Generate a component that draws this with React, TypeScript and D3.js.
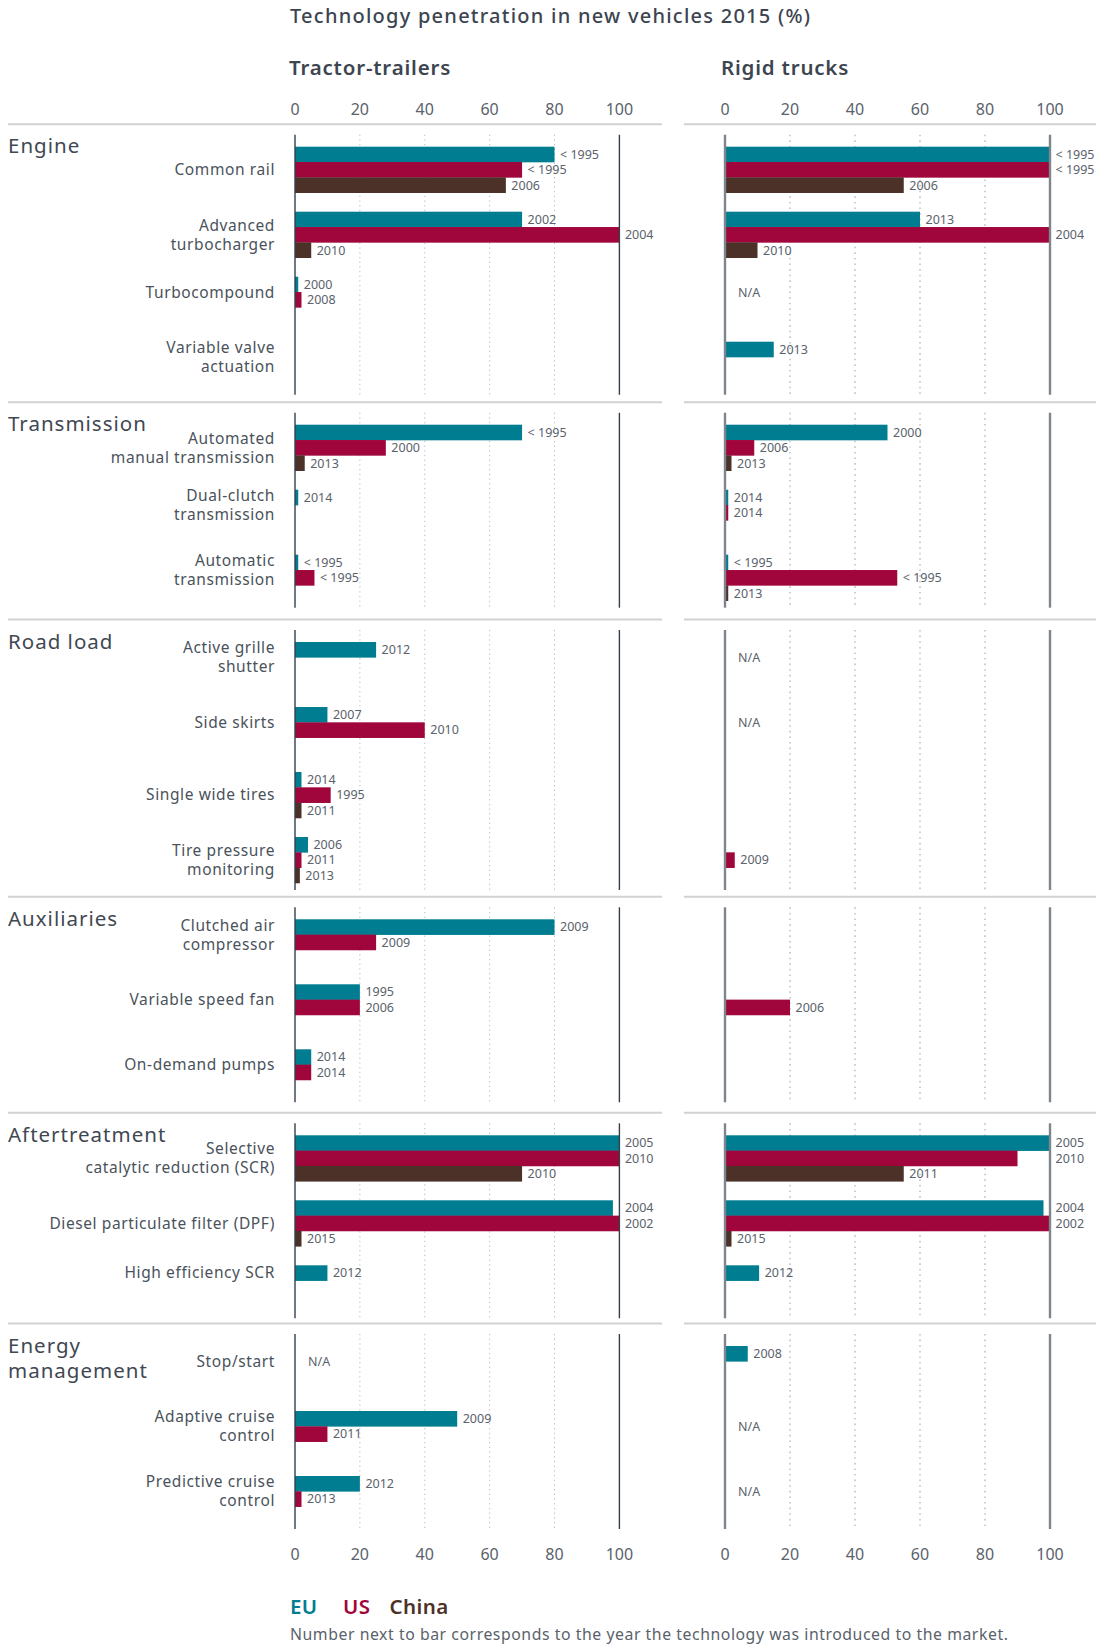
import React from "react";
import * as d3 from "d3";

// ---------- DATA ----------
const sectionNames = ["Engine", "Transmission", "Road load", "Auxiliaries", "Aftertreatment", "Energy\nmanagement"];
const techSection = [0, 0, 0, 0, 1, 1, 1, 2, 2, 2, 2, 3, 3, 3, 4, 4, 4, 5, 5, 5];
const techLabels = [
  "Common rail",
  "Advanced\nturbocharger",
  "Turbocompound",
  "Variable valve\nactuation",
  "Automated\nmanual transmission",
  "Dual-clutch\ntransmission",
  "Automatic\ntransmission",
  "Active grille\nshutter",
  "Side skirts",
  "Single wide tires",
  "Tire pressure\nmonitoring",
  "Clutched air\ncompressor",
  "Variable speed fan",
  "On-demand pumps",
  "Selective\ncatalytic reduction (SCR)",
  "Diesel particulate filter (DPF)",
  "High efficiency SCR",
  "Stop/start",
  "Adaptive cruise\ncontrol",
  "Predictive cruise\ncontrol",
];
const regions = ["EU", "US", "China"];
const regionColors = ["#007d91", "#a0063b", "#4b3128"];
const axisTicks = [0, 20, 40, 60, 80, 100];
const panelTitles = ["Tractor-trailers", "Rigid trucks"];

type V = number | null;
type Y = string | null;
const tractorEU: V[] = [80, 70, 1, null, 70, 1, 1, 25, 10, 2, 4, 80, 20, 5, 100, 98, 10, null, 50, 20];
const tractorEUYear: Y[] = ["< 1995", "2002", "2000", null, "< 1995", "2014", "< 1995", "2012", "2007", "2014", "2006", "2009", "1995", "2014", "2005", "2004", "2012", null, "2009", "2012"];
const tractorUS: V[] = [70, 100, 2, null, 28, null, 6, null, 40, 11, 2, 25, 20, 5, 100, 100, null, null, 10, 2];
const tractorUSYear: Y[] = ["< 1995", "2004", "2008", null, "2000", null, "< 1995", null, "2010", "1995", "2011", "2009", "2006", "2014", "2010", "2002", null, null, "2011", "2013"];
const tractorCN: V[] = [65, 5, null, null, 3, null, null, null, null, 2, 1.5, null, null, null, 70, 2, null, null, null, null];
const tractorCNYear: Y[] = ["2006", "2010", null, null, "2013", null, null, null, null, "2011", "2013", null, null, null, "2010", "2015", null, null, null, null];
const tractorNA = [17];

const rigidEU: V[] = [100, 60, null, 15, 50, 1, 1, null, null, null, null, null, null, null, 100, 98, 10.5, 7, null, null];
const rigidEUYear: Y[] = ["< 1995", "2013", null, "2013", "2000", "2014", "< 1995", null, null, null, null, null, null, null, "2005", "2004", "2012", "2008", null, null];
const rigidUS: V[] = [100, 100, null, null, 9, 1, 53, null, null, null, 3, null, 20, null, 90, 100, null, null, null, null];
const rigidUSYear: Y[] = ["< 1995", "2004", null, null, "2006", "2014", "< 1995", null, null, null, "2009", null, "2006", null, "2010", "2002", null, null, null, null];
const rigidCN: V[] = [55, 10, null, null, 2, null, 1, null, null, null, null, null, null, null, 55, 2, null, null, null, null];
const rigidCNYear: Y[] = ["2006", "2010", null, null, "2013", null, "2013", null, null, null, null, null, null, null, "2011", "2015", null, null, null, null];
const rigidNA = [2, 7, 8, 18, 19];

// ---------- LAYOUT ----------
const W = 1096;
const H = 1646;
const FONT = "'Noto Sans', 'Open Sans', sans-serif";
const TEXT = "#4a525b";
const LABEL = "#5a626b";
const slotH = 15.33;
const pitch = 65;
const padTop = 12;
const sectionGaps = [0, 18, 22.3, 17.3, 21, 15.7];
const firstAxisTop = 134.7;
const labelRight = 275;

const panels = [
  {
    x: d3.scaleLinear().domain([0, 100]).range([295, 619.4]),
    values: [tractorEU, tractorUS, tractorCN],
    years: [tractorEUYear, tractorUSYear, tractorCNYear],
    na: tractorNA,
    titleX: 289,
    axisColor: "#33404c",
    axisWidth: 1.4,
    gridColor: "#b8b8b8",
    gridWidth: 1,
    gridDash: "1.2 3.5",
    sepX: [8, 662],
  },
  {
    x: d3.scaleLinear().domain([0, 100]).range([725, 1050]),
    values: [rigidEU, rigidUS, rigidCN],
    years: [rigidEUYear, rigidUSYear, rigidCNYear],
    na: rigidNA,
    titleX: 721,
    axisColor: "#7e868d",
    axisWidth: 2.4,
    gridColor: "#c4c4c4",
    gridWidth: 1.6,
    gridDash: "1.6 4",
    sepX: [684, 1096],
  },
];

// section vertical extents
const sectionCounts = sectionNames.map((_, s) => techSection.filter((t) => t === s).length);
const sectionTops: number[] = [];
sectionCounts.forEach((n, s) => {
  if (s === 0) sectionTops.push(firstAxisTop);
  else sectionTops.push(sectionTops[s - 1] + sectionCounts[s - 1] * pitch + sectionGaps[s]);
});
const sectionBottoms = sectionTops.map((t, s) => t + sectionCounts[s] * pitch);

const techBarTop = techSection.map((s, i) => {
  const idx = techSection.slice(0, i).filter((t) => t === s).length;
  return sectionTops[s] + padTop + idx * pitch;
});

export default function App() {
  const lastBottom = sectionBottoms[sectionBottoms.length - 1];
  return (
    <svg
      width={W}
      height={H}
      viewBox={`0 0 ${W} ${H}`}
      style={{ position: "absolute", left: 0, top: 0, background: "#fff" }}
      fontFamily={FONT}
    >
      <rect x={0} y={0} width={W} height={H} fill="#fff" />
      {/* Title */}
      <text x={290} y={23} fontSize={20} fontWeight={500} fill="#3c4550" letterSpacing={1.25}>
        Technology penetration in new vehicles 2015 (%)
      </text>
      {panels.map((p, pi) => (
        <text key={"pt" + pi} x={p.titleX} y={75} fontSize={20.5} fontWeight={600} fill="#3c4550" letterSpacing={0.8}>
          {panelTitles[pi]}
        </text>
      ))}

      {/* tick labels top & bottom */}
      {panels.map((p, pi) =>
        axisTicks.map((t) => (
          <g key={`tk${pi}-${t}`}>
            <text x={p.x(t)} y={115} fontSize={16} fill="#5a626b" textAnchor="middle">
              {t}
            </text>
            <text x={p.x(t)} y={lastBottom + 31} fontSize={16} fill="#5a626b" textAnchor="middle">
              {t}
            </text>
          </g>
        ))
      )}

      {/* sections */}
      {sectionNames.map((name, s) => {
        const top = sectionTops[s];
        const bottom = sectionBottoms[s];
        const sepY = top - 10.5;
        const firstBar = top + padTop;
        return (
          <g key={"sec" + s}>
            {panels.map((p, pi) => (
              <g key={`sp${s}-${pi}`}>
                <line x1={p.sepX[0]} x2={p.sepX[1]} y1={sepY} y2={sepY} stroke="#d2d2d2" strokeWidth={2} />
                {axisTicks.slice(1, -1).map((t) => (
                  <line
                    key={"g" + t}
                    x1={p.x(t)}
                    x2={p.x(t)}
                    y1={top}
                    y2={bottom}
                    stroke={p.gridColor}
                    strokeWidth={p.gridWidth}
                    strokeDasharray={p.gridDash}
                  />
                ))}
              </g>
            ))}
            {name.split("\n").map((ln, li) => (
              <text key={"sn" + li} x={8} y={firstBar + 6.5 + li * 25} fontSize={20.5} fill="#3f4852" letterSpacing={1}>
                {ln}
              </text>
            ))}
          </g>
        );
      })}

      {/* bars */}
      {panels.map((p, pi) =>
        techLabels.map((_, i) =>
          regions.map((r, ri) => {
            const v = p.values[ri][i];
            if (v == null) return null;
            const y = techBarTop[i] + ri * slotH;
            return (
              <rect
                key={`b${pi}-${i}-${ri}`}
                x={p.x(0)}
                y={y}
                width={p.x(v) - p.x(0)}
                height={slotH + 0.3}
                fill={regionColors[ri]}
              />
            );
          })
        )
      )}

      {/* axes (0 and 100 lines) */}
      {panels.map((p, pi) =>
        sectionNames.map((_, s) => (
          <g key={`ax${pi}-${s}`}>
            {[0, 100].map((t) => (
              <line
                key={t}
                x1={p.x(t)}
                x2={p.x(t)}
                y1={sectionTops[s]}
                y2={sectionBottoms[s]}
                stroke={p.axisColor}
                strokeWidth={p.axisWidth}
              />
            ))}
          </g>
        ))
      )}

      {/* value labels */}
      {panels.map((p, pi) =>
        techLabels.map((_, i) =>
          regions.map((r, ri) => {
            const v = p.values[ri][i];
            const yr = p.years[ri][i];
            if (v == null || yr == null) return null;
            const y = techBarTop[i] + (ri + 0.5) * slotH + 4.5;
            let lx = p.x(v) + 5.5;
            if (lx + yr.length * 6.8 > p.x(100) - 2) lx = p.x(100) + 5.5;
            return (
              <text key={`l${pi}-${i}-${ri}`} x={lx} y={y} fontSize={12.5} fill={LABEL}>
                {yr}
              </text>
            );
          })
        )
      )}

      {/* N/A */}
      {panels.map((p, pi) =>
        p.na.map((i) => (
          <text key={`na${pi}-${i}`} x={p.x(0) + 13} y={techBarTop[i] + slotH + 4.5} fontSize={12.5} fill={LABEL}>
            N/A
          </text>
        ))
      )}

      {/* technology labels */}
      {techLabels.map((lab, i) => {
        const lines = lab.split("\n");
        const count = regions.filter((_, ri) => panels[0].values[ri][i] != null).length;
        const span = count === 0 ? 2 : Math.max(count, lines.length);
        const center = techBarTop[i] + (span * slotH) / 2;
        const lh = 18.8;
        return (
          <text key={"tl" + i} fontSize={15.5} fill={TEXT} textAnchor="end" letterSpacing={0.6}>
            {lines.map((ln, li) => (
              <tspan key={li} x={labelRight} y={center - ((lines.length - 1) * lh) / 2 + li * lh + 5.5}>
                {ln}
              </tspan>
            ))}
          </text>
        );
      })}

      {/* legend */}
      <text y={1614} fontSize={20.5} fontWeight={600} letterSpacing={0.4}>
        <tspan x={290} fill={regionColors[0]}>{regions[0]}</tspan>
        <tspan x={343} fill={regionColors[1]}>{regions[1]}</tspan>
        <tspan x={389.5} fill={regionColors[2]}>{regions[2]}</tspan>
      </text>
      <text x={290} y={1639.5} fontSize={15.8} fill="#5a626b" letterSpacing={0.55}>
        Number next to bar corresponds to the year the technology was introduced to the market.
      </text>
    </svg>
  );
}
